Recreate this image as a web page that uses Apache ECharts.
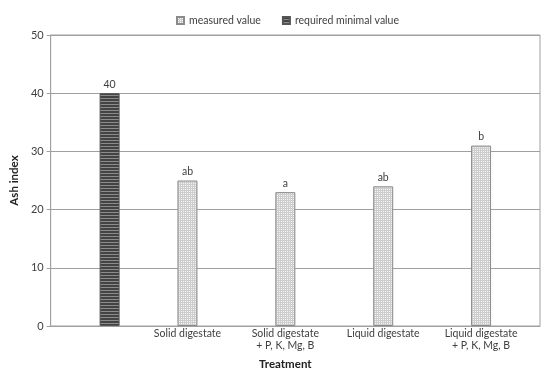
<!DOCTYPE html>
<html>
<head>
<meta charset="utf-8">
<style>html,body{margin:0;padding:0;background:#fff;}#c{width:550px;height:377px;}</style>
<script src="https://cdn.jsdelivr.net/npm/echarts@6/dist/echarts.min.js"></script>
</head>
<body>
<div id="c"></div>
<script>
var categories = ['', 'Solid digestate', 'Solid digestate\n+ P, K, Mg, B', 'Liquid digestate', 'Liquid digestate\n+ P, K, Mg, B'];
var measuredValues = [null, 25, 23, 24, 31];
var requiredValues = [40, null, null, null, null];
var measuredLabels = ['', 'ab', 'a', 'ab', 'b'];
var requiredLabels = ['40', '', '', '', ''];
var yTicks = [0, 10, 20, 30, 40, 50];

function lightPattern() {
  var c = document.createElement('canvas'); c.width = 2; c.height = 2;
  var g = c.getContext('2d');
  g.fillStyle = '#cdcdcd'; g.fillRect(0, 0, 2, 2);
  g.fillStyle = '#f4f4f4'; g.fillRect(1, 1, 1, 1);
  return c;
}
function darkPattern() {
  var c = document.createElement('canvas'); c.width = 4; c.height = 3;
  var g = c.getContext('2d');
  g.fillStyle = '#434343'; g.fillRect(0, 0, 4, 3);
  g.fillStyle = '#8c8c8c'; g.fillRect(0, 2, 4, 1);
  return c;
}
var FONT = 'Lato, "Open Sans", sans-serif';
var chart = echarts.init(document.getElementById('c'), null, {renderer: 'canvas'});
chart.setOption({
  animation: false,
  textStyle: {fontFamily: FONT},
  legend: {
    top: 10, left: 171,
    itemWidth: 7, itemHeight: 7, itemGap: 21,
    icon: 'rect',
    textStyle: {fontFamily: FONT, fontSize: 10.5, color: '#404040'},
    data: ['measured value', 'required minimal value']
  },
  grid: {left: 46, right: 10, top: 35, bottom: 51, show: true, borderColor: '#a0a0a0', borderWidth: 1, backgroundColor: 'transparent'},
  xAxis: {
    type: 'category', data: categories,
    name: 'Treatment', nameLocation: 'middle', nameGap: 32,
    nameTextStyle: {fontFamily: FONT, fontSize: 11.5, fontWeight: 'bold', color: '#222', padding: [0, 20, 0, 0]},
    axisLine: {show: true, lineStyle: {color: '#a0a0a0'}},
    axisTick: {show: false},
    axisLabel: {fontFamily: FONT, fontSize: 10.5, color: '#404040', margin: 2, lineHeight: 12, padding: [0, 20, 0, 0], interval: 0}
  },
  yAxis: {
    type: 'value', min: 0, max: 50, interval: 10,
    name: 'Ash index', nameLocation: 'middle', nameGap: 27,
    nameTextStyle: {fontFamily: FONT, fontSize: 11.5, fontWeight: 'bold', color: '#222'},
    axisLine: {show: true, lineStyle: {color: '#a0a0a0'}},
    axisTick: {show: true, length: 4, lineStyle: {color: '#a0a0a0'}},
    axisLabel: {fontFamily: FONT, fontSize: 11, color: '#404040', margin: 7,
      formatter: function (v) { return yTicks.indexOf(v) >= 0 ? String(v) : ''; }},
    splitLine: {show: true, lineStyle: {color: '#a0a0a0', width: 1}}
  },
  series: [
    {
      name: 'measured value', type: 'bar', data: measuredValues,
      barWidth: 20, barGap: '0%',
      itemStyle: {color: {image: lightPattern(), repeat: 'repeat'}, borderColor: '#8a8a8a', borderWidth: 1},
      label: {show: true, position: 'top', distance: 3, fontFamily: FONT, fontSize: 10.5, color: '#404040',
        formatter: function (p) { return measuredLabels[p.dataIndex]; }}
    },
    {
      name: 'required minimal value', type: 'bar', data: requiredValues,
      barWidth: 20,
      itemStyle: {color: {image: darkPattern(), repeat: 'repeat'}, borderColor: '#555', borderWidth: 1},
      label: {show: true, position: 'top', distance: 3, fontFamily: FONT, fontSize: 10.5, color: '#404040',
        formatter: function (p) { return requiredLabels[p.dataIndex]; }}
    }
  ]
});
</script>
</body>
</html>
